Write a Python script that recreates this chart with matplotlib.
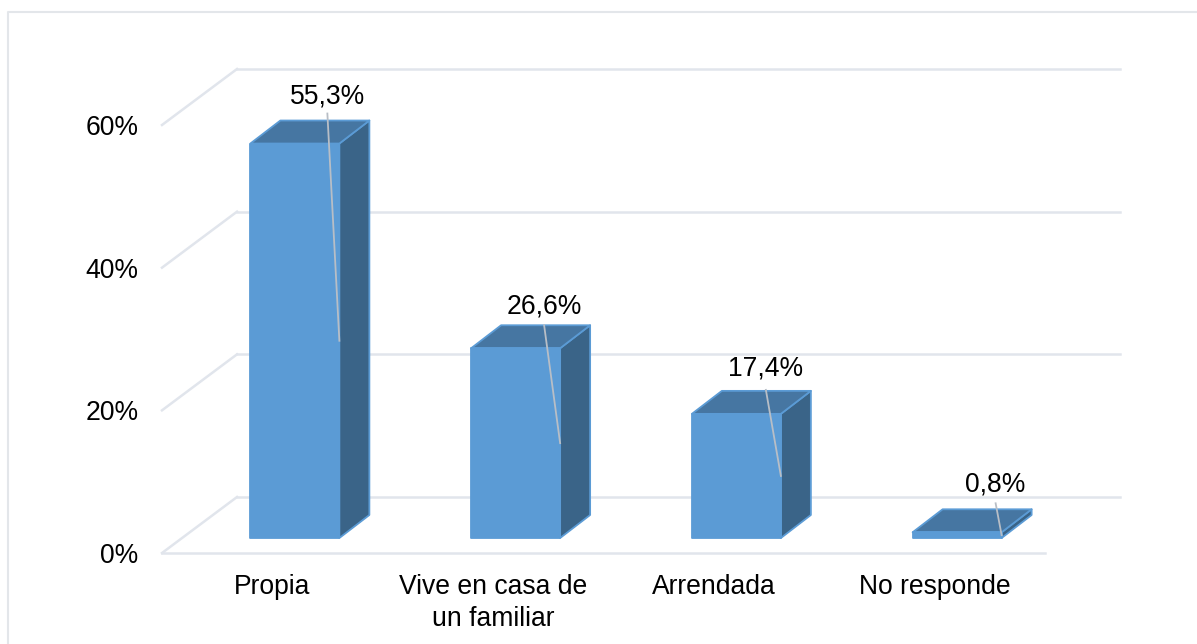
"""Bar chart with fake 3D boxes drawn on a flat axes"""
import matplotlib
matplotlib.use("Agg")
import matplotlib.pyplot as plt
from matplotlib.lines import Line2D
from matplotlib.patches import Polygon

categories = ["Propia", "Vive en casa de\nun familiar", "Arrendada", "No responde"]
values = [55.3, 26.6, 17.4, 0.8]
value_labels = ["55,3%", "26,6%", "17,4%", "0,8%"]
y_ticks = [0, 20, 40, 60]
y_tick_labels = ["0%", "20%", "40%", "60%"]

WIDTH, HEIGHT = 1197, 644
FONT = 19.1
FRONT = "#5b9bd5"
TOP = "#4676a2"
SIDE = "#3a6488"
GRID = "#e1e5ec"
LEADER = "#b8bec6"

# axes box in pixels, floor front edge to 60% on the left wall
LEFT, RIGHT, BOTTOM, TOP_PX = 162, 1045, 553, 125
X_UNIT = (RIGHT - LEFT) / 4
Y_UNIT = (BOTTOM - TOP_PX) / 60

# 3D offsets
WALL_DX, WALL_DY = 75 / X_UNIT, 56 / Y_UNIT
BAR_W = 89 / X_UNIT
BAR_SHIFT, BAR_LIFT = 22.5 / X_UNIT, 15 / Y_UNIT
BAR_DX, BAR_DY = 30 / X_UNIT, 23 / Y_UNIT

# label placement relative to the bar front right corner, in pixels
label_dx = [-12, -16, -15, -6]
label_dy = [47.5, 42, 45, 47.5]
leader_dy = [30, 23, 24, 29]

plt.rcParams["font.family"] = ["Liberation Sans", "DejaVu Sans"]

fig = plt.figure(figsize=(WIDTH / 100, HEIGHT / 100), dpi=100)
ax = fig.add_axes([LEFT / WIDTH, 1 - BOTTOM / HEIGHT,
                   (RIGHT - LEFT) / WIDTH, (BOTTOM - TOP_PX) / HEIGHT])
ax.set_xlim(-0.5, 3.5)
ax.set_ylim(0, 60)
for spine in ax.spines.values():
    spine.set_visible(False)
ax.patch.set_visible(False)

ax.set_yticks(y_ticks)
ax.set_yticklabels(y_tick_labels, fontsize=FONT, color="black")
ax.set_xticks(range(len(categories)))
ax.set_xticklabels(categories, fontsize=FONT, color="black", linespacing=1.33)
ax.tick_params(axis="y", length=0, pad=17)
ax.tick_params(axis="x", length=0, pad=15)

# walls and floor
for t in y_ticks:
    ax.plot([-0.5, -0.5 + WALL_DX], [t, t + WALL_DY], color=GRID, lw=1.8,
            clip_on=False, zorder=1)
    ax.plot([-0.5 + WALL_DX, 3.5 + WALL_DX], [t + WALL_DY, t + WALL_DY],
            color=GRID, lw=1.8, clip_on=False, zorder=1)
ax.plot([-0.5, 3.5], [0, 0], color=GRID, lw=1.8, clip_on=False, zorder=1)

# boxes
for i, v in enumerate(values):
    x0 = i + BAR_SHIFT - BAR_W / 2
    x1 = x0 + BAR_W
    y0 = BAR_LIFT
    y1 = BAR_LIFT + v
    faces = [
        ([(x1, y0), (x1 + BAR_DX, y0 + BAR_DY), (x1 + BAR_DX, y1 + BAR_DY), (x1, y1)], SIDE),
        ([(x0, y1), (x1, y1), (x1 + BAR_DX, y1 + BAR_DY), (x0 + BAR_DX, y1 + BAR_DY)], TOP),
        ([(x0, y0), (x1, y0), (x1, y1), (x0, y1)], FRONT),
    ]
    for pts, colour in faces:
        ax.add_patch(Polygon(pts, closed=True, facecolor=colour, edgecolor=FRONT,
                             lw=1.3, joinstyle="round", clip_on=False, zorder=2))

    lx = x1 + label_dx[i] / X_UNIT
    ax.plot([lx, x1], [y1 + leader_dy[i] / Y_UNIT, (y0 + y1) / 2], color=LEADER, lw=1.3,
            clip_on=False, zorder=3)
    ax.text(lx, y1 + label_dy[i] / Y_UNIT, value_labels[i], fontsize=FONT, color="black",
            ha="center", va="center", zorder=4)

# chart area border, only top and left show in the picture
border_x = [8 / WIDTH, 8 / WIDTH, 1]
border_y = [0, 1 - 12 / HEIGHT, 1 - 12 / HEIGHT]
fig.add_artist(Line2D(border_x, border_y, color="#e3e6ea", lw=1.5))

fig.savefig("out.png", dpi=100)
